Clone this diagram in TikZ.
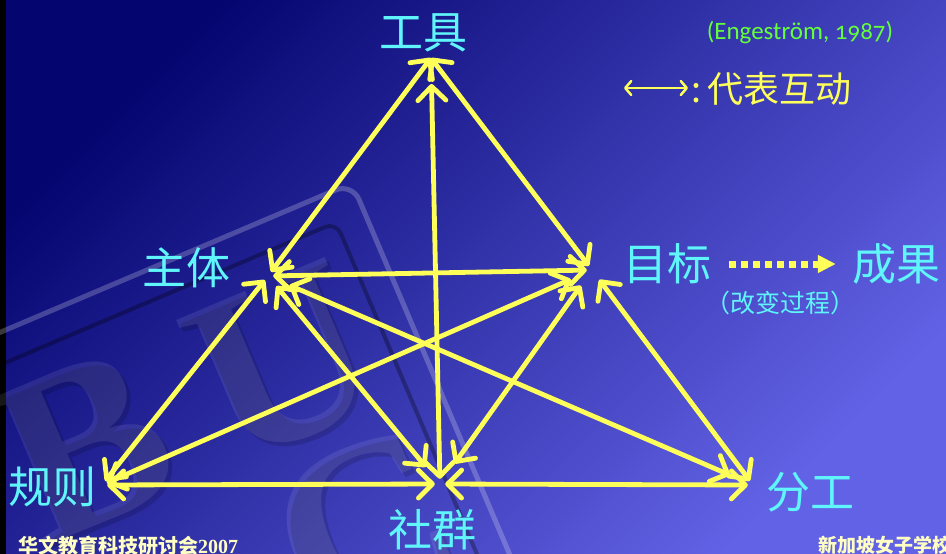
\documentclass[tikz,border=0pt]{standalone}
\usepackage{fontspec}
\setmainfont{Liberation Serif}
\newfontfamily\cjk{Noto Sans CJK SC}
\newfontfamily\citefont{Carlito}[Numbers=OldStyle]
\usetikzlibrary{arrows.meta,positioning,shadings}
\tikzset{>={Straight Barb[length=14pt,width=28pt,round]}}

\definecolor{bgdark}{RGB}{5,5,112}
\definecolor{bgmid}{RGB}{48,48,188}
\definecolor{bglight}{RGB}{98,98,230}
\definecolor{linkyellow}{RGB}{255,255,90}
\definecolor{labelcyan}{RGB}{95,245,250}
\definecolor{citegreen}{RGB}{100,255,60}
\definecolor{footcream}{RGB}{255,255,195}

\tikzset{
  hub/.style={circle,inner sep=0pt,minimum size=10pt},
  link/.style={<->,draw=linkyellow,line width=4.8pt,line cap=round},
  lbl/.style={inner sep=0pt,text=labelcyan,font=\cjk\fontsize{44}{44}\selectfont},
  mark letter/.style={rotate=23,inner sep=0pt,font=\bfseries\fontsize{240}{240}\selectfont},
}

\begin{document}
\begin{tikzpicture}[x=1pt,y=-1pt]
\useasboundingbox (0,0) rectangle (946,554);
% background
\shade[top color=bglight,middle color=bgmid,bottom color=bgdark,shading angle=-135] (0,0) rectangle (946,554);
\fill[black] (0,0) rectangle (6,554);
% watermark
\begin{scope}[rotate around={23:(352,183)}]
\draw[white,opacity=.22,line width=5pt,rounded corners=18pt] (-150,183) -- (352,183) -- (352,700);
\draw[black,opacity=.3,line width=4pt,rounded corners=12pt] (-150,213) -- (322,213) -- (322,700);
\end{scope}
\foreach \ch/\x/\y in {B/85/445,U/282/362,C/365/528} {
  \node[mark letter,text=black,opacity=.15] at (\x+4,\y+4) {\ch};
  \node[mark letter,text=white,opacity=.09] at (\x,\y) {\ch};
}

% hubs
\coordinate (tool) at (431,58);
\node[hub] (subj) at (268,276) {};
\node[hub] (goal) at (592,270) {};
\node[hub] (rule) at (102,485) {};
\node[hub] (comm) at (440,484) {};
\node[hub] (labor) at (753,485) {};

% labels
\node[lbl] (toolL) at (423,33) {工具};
\node[lbl] (subjL) at (186,268) {主体};
\node[lbl] (goalL) at (667,264) {目标};
\node[lbl] (resultL) at (896,264) {成果};
\node[lbl] (ruleL) at (53,487) {规则};
\node[lbl] (commL) at (432,530) {社群};
\node[lbl] (laborL) at (810,492) {分工};
\node[inner sep=0pt,text=labelcyan,font=\cjk\fontsize{25}{25}\selectfont] (changeL) at (780,303) {（改变过程）};

% interactions
\draw[link] (tool) -- (subj);
\draw[link] (tool) -- (goal);
\draw[link,shorten <=26pt] (tool) -- (comm);
\draw[link] (subj) -- (goal);
\draw[link] (subj) -- (rule);
\draw[link,shorten <=8pt,shorten >=17pt] (subj) -- (comm);
\draw[link,shorten <=18pt,shorten >=20pt] (subj) -- (labor);
\draw[link,shorten <=18pt] (goal) -- (rule);
\draw[link,shorten <=14pt,shorten >=20pt] (goal) -- (comm);
\draw[link,shorten <=7pt] (goal) -- (labor);
\draw[link] (rule) -- (comm);
\draw[link] (comm) -- (labor);

% outcome
\draw[draw=linkyellow,line width=7pt,dash pattern=on 7pt off 5pt,
  -{Triangle[length=18pt,width=17pt]},shorten <=18pt,shorten >=16pt] (goalL.east) -- (resultL.west);

% legend and source
\coordinate (legL) at (624,88);
\coordinate (legR) at (688,88);
\draw[<->,draw=linkyellow,line width=2.5pt,>={Straight Barb[length=6pt,width=14pt,round]}] (legL) -- (legR);
\node[anchor=west,inner sep=0pt,text=linkyellow,font=\cjk\fontsize{36}{36}\selectfont] (legT) at (691,89) {:\hspace{6pt}代表互动};
\node[inner sep=0pt,text=citegreen,font=\citefont\fontsize{25}{25}\selectfont] (src) at (800,33) {(Engeström, 1987)};

% footers
\node[anchor=west,inner sep=0pt,text=footcream,font=\fontsize{20}{20}\selectfont] (footL) at (18,546) {{\cjk\bfseries 华文教育科技研讨会}\textbf{2007}};
\node[anchor=west,inner sep=0pt,text=footcream,font=\cjk\bfseries\fontsize{19}{19}\selectfont] (footR) at (818,545) {新加坡女子学校};
\end{tikzpicture}
\end{document}
